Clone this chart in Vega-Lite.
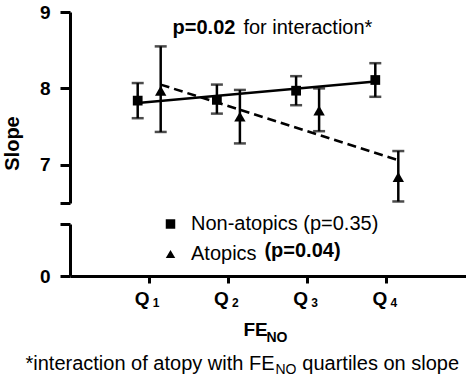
{
  "$schema": "https://vega.github.io/schema/vega-lite/v6.json",
  "padding": {"left": 2, "top": 3, "right": 0, "bottom": 0},
  "config": {
    "font": "Liberation Sans",
    "view": {"stroke": null},
    "axis": {
      "grid": false,
      "domainColor": "black",
      "domainWidth": 3,
      "tickColor": "black",
      "tickWidth": 3,
      "labelColor": "black",
      "titleColor": "black",
      "labelFontWeight": "bold",
      "labelFontSize": 19
    },
    "axisY": {
      "tickSize": 10, "labelPadding": 10,
      "titleFontSize": 20, "titleFontWeight": "bold",
      "titleAngle": -90, "titleAlign": "center", "titleBaseline": "middle"
    },
    "legend": {
      "orient": "none", "legendX": 90.5, "legendY": 202, "title": null,
      "labelFontSize": 20, "labelColor": "black", "labelOffset": 10.5, "labelLimit": 400,
      "symbolSize": 90, "symbolFillColor": "black", "symbolStrokeWidth": 0,
      "rowPadding": 10
    }
  },
  "datasets": {
    "pts": [
      {"series": "Non-atopics", "q": "Q1", "mean": 7.84, "lo": 7.61, "hi": 8.07},
      {"series": "Non-atopics", "q": "Q2", "mean": 7.85, "lo": 7.67, "hi": 8.05},
      {"series": "Non-atopics", "q": "Q3", "mean": 7.97, "lo": 7.78, "hi": 8.16},
      {"series": "Non-atopics", "q": "Q4", "mean": 8.11, "lo": 7.89, "hi": 8.33},
      {"series": "Atopics", "q": "Q1", "mean": 7.97, "lo": 7.43, "hi": 8.55},
      {"series": "Atopics", "q": "Q2", "mean": 7.63, "lo": 7.28, "hi": 7.98},
      {"series": "Atopics", "q": "Q3", "mean": 7.71, "lo": 7.44, "hi": 8.0},
      {"series": "Atopics", "q": "Q4", "mean": 6.84, "lo": 6.52, "hi": 7.18}
    ],
    "fits": [
      {"series": "Non-atopics", "q": "Q1", "fit": 7.81},
      {"series": "Non-atopics", "q": "Q4", "fit": 8.09},
      {"series": "Atopics", "q": "Q1", "fit": 8.05},
      {"series": "Atopics", "q": "Q4", "fit": 7.06}
    ]
  },
  "spacing": 21,
  "bounds": "flush",
  "vconcat": [
    {
      "width": 396,
      "height": 191,
      "layer": [
        {
          "data": {"name": "pts"},
          "encoding": {
            "x": {"field": "q", "type": "ordinal", "scale": {"type": "band", "domain": ["Q1", "Q2", "Q3", "Q4"], "paddingInner": 0, "paddingOuter": 0.5}, "axis": null},
            "xOffset": {"field": "series", "type": "nominal", "scale": {"type": "point", "domain": ["Non-atopics", "Atopics"], "range": [28.1, 51.1], "padding": 0}}
          },
          "layer": [
            {
              "data": {"name": "fits"},
              "transform": [{"filter": "datum.series == 'Non-atopics'"}],
              "mark": {"type": "line", "color": "black", "strokeWidth": 2.5},
              "encoding": {
                "y": {"field": "fit", "type": "quantitative", "scale": {"domain": [6.5, 9], "nice": false, "zero": false},
                  "axis": {"values": [6.5, 7, 8, 9], "labelExpr": "datum.value == 6.5 ? '' : format(datum.value, 'd')", "tickSize": 10, "labelPadding": 10, "title": "Slope", "titleX": -58, "titleY": 131}}
              }
            },
            {
              "data": {"name": "fits"},
              "transform": [{"filter": "datum.series == 'Atopics'"}],
              "mark": {"type": "line", "color": "black", "strokeWidth": 2.5, "strokeDash": [9, 5]},
              "encoding": {
                "y": {"field": "fit", "type": "quantitative", "scale": {"domain": [6.5, 9], "nice": false, "zero": false},
                  "axis": {"values": [6.5, 7, 8, 9], "labelExpr": "datum.value == 6.5 ? '' : format(datum.value, 'd')", "tickSize": 10, "labelPadding": 10, "title": "Slope", "titleX": -58, "titleY": 131}}
              }
            },
            {
              "mark": {"type": "rule", "color": "black", "strokeWidth": 2.5},
              "encoding": {
                "y": {"field": "lo", "type": "quantitative", "scale": {"domain": [6.5, 9], "nice": false, "zero": false},
                  "axis": {"values": [6.5, 7, 8, 9], "labelExpr": "datum.value == 6.5 ? '' : format(datum.value, 'd')", "tickSize": 10, "labelPadding": 10, "title": "Slope", "titleX": -58, "titleY": 131}},
                "y2": {"field": "hi"}
              }
            },
            {
              "mark": {"type": "tick", "orient": "horizontal", "color": "black", "size": 12, "thickness": 2.5},
              "encoding": {
                "y": {"field": "lo", "type": "quantitative", "scale": {"domain": [6.5, 9], "nice": false, "zero": false},
                  "axis": {"values": [6.5, 7, 8, 9], "labelExpr": "datum.value == 6.5 ? '' : format(datum.value, 'd')", "tickSize": 10, "labelPadding": 10, "title": "Slope", "titleX": -58, "titleY": 131}}
              }
            },
            {
              "mark": {"type": "tick", "orient": "horizontal", "color": "black", "size": 12, "thickness": 2.5},
              "encoding": {
                "y": {"field": "hi", "type": "quantitative", "scale": {"domain": [6.5, 9], "nice": false, "zero": false},
                  "axis": {"values": [6.5, 7, 8, 9], "labelExpr": "datum.value == 6.5 ? '' : format(datum.value, 'd')", "tickSize": 10, "labelPadding": 10, "title": "Slope", "titleX": -58, "titleY": 131}}
              }
            },
            {
              "transform": [{"filter": "datum.series == 'Non-atopics'"}],
              "mark": {"type": "point", "filled": true, "color": "black", "size": 95, "opacity": 1},
              "encoding": {
                "y": {"field": "mean", "type": "quantitative", "scale": {"domain": [6.5, 9], "nice": false, "zero": false},
                  "axis": {"values": [6.5, 7, 8, 9], "labelExpr": "datum.value == 6.5 ? '' : format(datum.value, 'd')", "tickSize": 10, "labelPadding": 10, "title": "Slope", "titleX": -58, "titleY": 131}},
                "shape": {"field": "series", "type": "nominal",
                  "scale": {"domain": ["Non-atopics", "Atopics"], "range": ["square", "triangle-up"]},
                  "legend": {"labelExpr": "datum.label == 'Non-atopics' ? 'Non-atopics (p=0.35)' : 'Atopics'"}}
              }
            },
            {
              "transform": [{"filter": "datum.series == 'Atopics'"}],
              "mark": {"type": "point", "filled": true, "color": "black", "size": 130, "opacity": 1},
              "encoding": {
                "y": {"field": "mean", "type": "quantitative", "scale": {"domain": [6.5, 9], "nice": false, "zero": false},
                  "axis": {"values": [6.5, 7, 8, 9], "labelExpr": "datum.value == 6.5 ? '' : format(datum.value, 'd')", "tickSize": 10, "labelPadding": 10, "title": "Slope", "titleX": -58, "titleY": 131}},
                "shape": {"field": "series", "type": "nominal",
                  "scale": {"domain": ["Non-atopics", "Atopics"], "range": ["square", "triangle-up"]},
                  "legend": {"labelExpr": "datum.label == 'Non-atopics' ? 'Non-atopics (p=0.35)' : 'Atopics'"}}
              }
            }
          ]
        },
        {
          "data": {"values": [{"note": "p=0.02"}]},
          "mark": {"type": "text", "fontWeight": "bold", "fontSize": 20, "align": "right", "baseline": "middle", "dx": 7, "color": "black"},
          "encoding": {
            "x": {"datum": "Q2", "type": "ordinal", "scale": {"type": "band", "domain": ["Q1", "Q2", "Q3", "Q4"], "paddingInner": 0, "paddingOuter": 0.5}, "axis": null},
            "y": {"datum": 8.79, "type": "quantitative", "scale": {"domain": [6.5, 9], "nice": false, "zero": false},
              "axis": {"values": [6.5, 7, 8, 9], "labelExpr": "datum.value == 6.5 ? '' : format(datum.value, 'd')", "tickSize": 10, "labelPadding": 10, "title": "Slope", "titleX": -58, "titleY": 131}},
            "text": {"field": "note"}
          }
        },
        {
          "data": {"values": [{"note": "for interaction*"}]},
          "mark": {"type": "text", "fontWeight": "normal", "fontSize": 20, "align": "left", "baseline": "middle", "dx": 15, "color": "black"},
          "encoding": {
            "x": {"datum": "Q2", "type": "ordinal", "scale": {"type": "band", "domain": ["Q1", "Q2", "Q3", "Q4"], "paddingInner": 0, "paddingOuter": 0.5}, "axis": null},
            "y": {"datum": 8.79, "type": "quantitative", "scale": {"domain": [6.5, 9], "nice": false, "zero": false},
              "axis": {"values": [6.5, 7, 8, 9], "labelExpr": "datum.value == 6.5 ? '' : format(datum.value, 'd')", "tickSize": 10, "labelPadding": 10, "title": "Slope", "titleX": -58, "titleY": 131}},
            "text": {"field": "note"}
          }
        },
        {
          "data": {"values": [{"note": "(p=0.04)"}]},
          "mark": {"type": "text", "fontWeight": "bold", "fontSize": 20, "align": "left", "baseline": "middle", "dx": 36, "color": "black"},
          "encoding": {
            "x": {"datum": "Q2", "type": "ordinal", "scale": {"type": "band", "domain": ["Q1", "Q2", "Q3", "Q4"], "paddingInner": 0, "paddingOuter": 0.5}, "axis": null},
            "y": {"datum": 5.87, "type": "quantitative", "scale": {"domain": [6.5, 9], "nice": false, "zero": false},
              "axis": {"values": [6.5, 7, 8, 9], "labelExpr": "datum.value == 6.5 ? '' : format(datum.value, 'd')", "tickSize": 10, "labelPadding": 10, "title": "Slope", "titleX": -58, "titleY": 131}},
            "text": {"field": "note"}
          }
        }
      ]
    },
    {
      "width": 396,
      "height": 52,
      "data": {"name": "pts"},
      "layer": [
        {
          "mark": {"type": "point", "opacity": 0},
          "encoding": {
            "x": {
              "field": "q", "type": "ordinal",
              "scale": {"type": "band", "domain": ["Q1", "Q2", "Q3", "Q4"], "paddingInner": 0, "paddingOuter": 0.5},
              "axis": {
                "orient": "bottom", "tickSize": 7, "labelPadding": 6, "labelAngle": 0, "labelFontSize": 19,
                "labelExpr": "substring(datum.label, 0, 1)", "labelOffset": -7,
                "title": "FE", "titleFontSize": 19, "titleFontWeight": "bold",
                "titleX": 173, "titleY": 59, "titleAlign": "left", "titleBaseline": "alphabetic"
              }
            },
            "y": {"datum": 0, "type": "quantitative", "scale": {"domain": [0, 1], "nice": false},
              "axis": {"values": [0, 1], "labelExpr": "datum.value == 0 ? '0' : ''", "tickSize": 10, "labelPadding": 10, "title": null}}
          }
        },
        {
          "mark": {"type": "point", "opacity": 0},
          "encoding": {
            "x": {
              "field": "q", "type": "ordinal",
              "scale": {"type": "band", "domain": ["Q1", "Q2", "Q3", "Q4"], "paddingInner": 0, "paddingOuter": 0.5},
              "axis": {
                "orient": "bottom", "domain": false, "ticks": false, "tickSize": 0, "labelAngle": 0,
                "labelExpr": "substring(datum.label, 1)", "labelFontSize": 12, "labelOffset": 7,
                "labelBaseline": "alphabetic", "labelPadding": 30,
                "title": "NO", "titleFontSize": 14, "titleFontWeight": "bold",
                "titleX": 196, "titleY": 65, "titleAlign": "left", "titleBaseline": "alphabetic"
              }
            },
            "y": {"datum": 0, "type": "quantitative", "scale": {"domain": [0, 1], "nice": false},
              "axis": {"values": [0, 1], "labelExpr": "datum.value == 0 ? '0' : ''", "tickSize": 10, "labelPadding": 10, "title": null}}
          }
        },
        {
          "mark": {"type": "point", "opacity": 0},
          "encoding": {
            "x": {
              "field": "q", "type": "ordinal",
              "scale": {"type": "band", "domain": ["Q1", "Q2", "Q3", "Q4"], "paddingInner": 0, "paddingOuter": 0.5},
              "axis": {
                "orient": "bottom", "domain": false, "ticks": false, "labels": false,
                "title": "*interaction of atopy with FE\u00a0\u00a0\u00a0\u00a0 quartiles on slope", "titleFontSize": 20, "titleFontWeight": "normal",
                "titleX": -45, "titleY": 93, "titleAlign": "left", "titleBaseline": "alphabetic"
              }
            },
            "y": {"datum": 0, "type": "quantitative", "scale": {"domain": [0, 1], "nice": false},
              "axis": {"values": [0, 1], "labelExpr": "datum.value == 0 ? '0' : ''", "tickSize": 10, "labelPadding": 10, "title": null}}
          }
        },
        {
          "mark": {"type": "point", "opacity": 0},
          "encoding": {
            "x": {
              "field": "q", "type": "ordinal",
              "scale": {"type": "band", "domain": ["Q1", "Q2", "Q3", "Q4"], "paddingInner": 0, "paddingOuter": 0.5},
              "axis": {
                "orient": "bottom", "domain": false, "ticks": false, "labels": false,
                "title": "NO", "titleFontSize": 14, "titleFontWeight": "normal",
                "titleX": 205, "titleY": 97, "titleAlign": "left", "titleBaseline": "alphabetic"
              }
            },
            "y": {"datum": 0, "type": "quantitative", "scale": {"domain": [0, 1], "nice": false},
              "axis": {"values": [0, 1], "labelExpr": "datum.value == 0 ? '0' : ''", "tickSize": 10, "labelPadding": 10, "title": null}}
          }
        }
      ],
      "resolve": {"axis": {"x": "independent"}}
    }
  ]
}
